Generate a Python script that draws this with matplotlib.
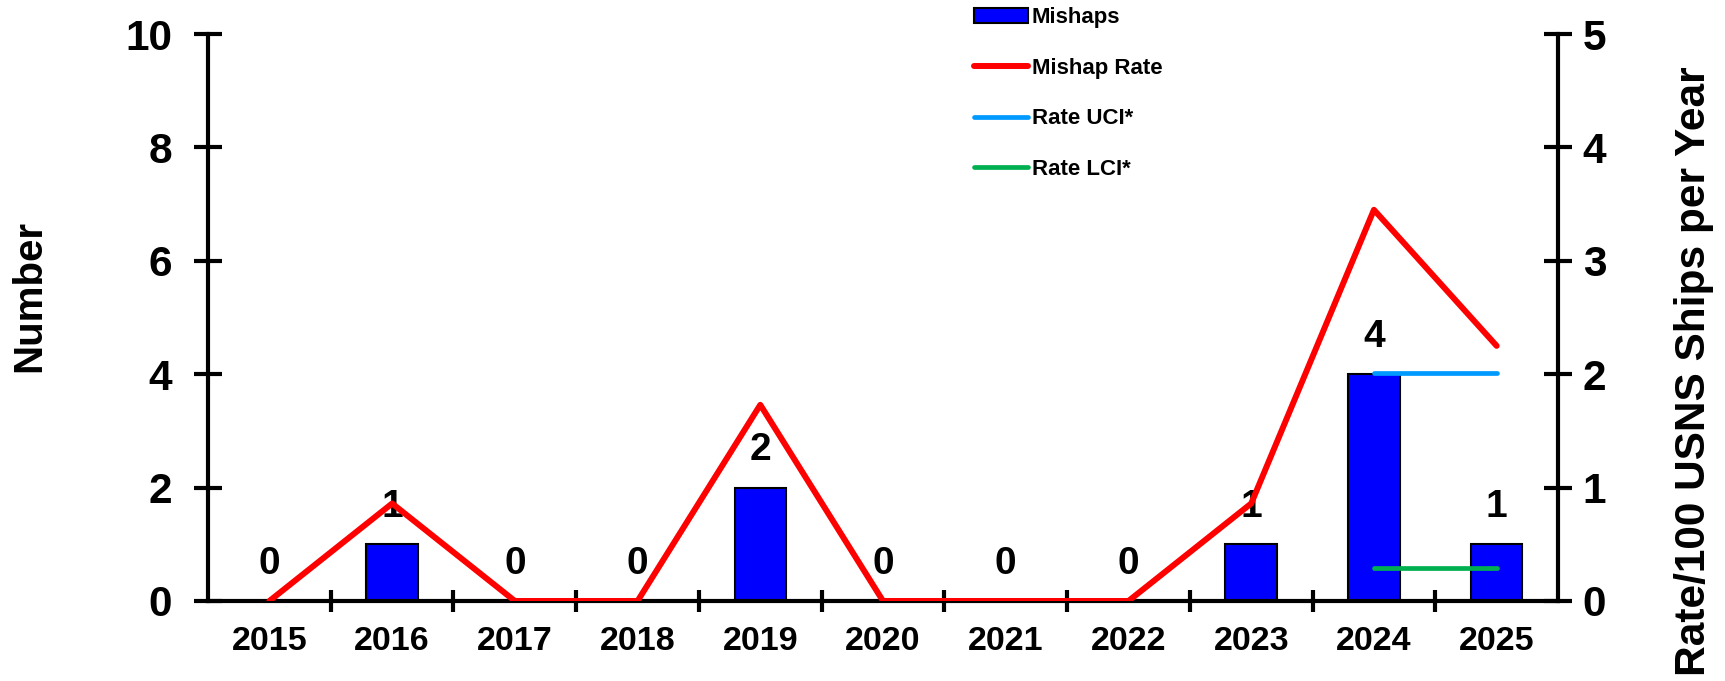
import numpy as np
import matplotlib
matplotlib.use("Agg")
import matplotlib.pyplot as plt

# chart data
years   = ["2015", "2016", "2017", "2018", "2019", "2020", "2021", "2022", "2023", "2024", "2025"]
mishaps = [0, 1, 0, 0, 2, 0, 0, 0, 1, 4, 1]
rate    = [0, 0.86, 0, 0, 1.73, 0, 0, 0, 0.86, 3.45, 2.25]
ci_years = ["2024", "2025"]
rate_uci = [2.01, 2.01]
rate_lci = [0.29, 0.29]

plt.rcParams["font.family"] = ["Liberation Sans", "DejaVu Sans"]
plt.rcParams["font.weight"] = "bold"

fig = plt.figure(figsize = (17.25, 6.81), dpi = 100)
ax = fig.add_axes([0.1206, 0.1175, 0.7826, 0.8325])

x = np.arange(len(years))
ci_x = [years.index(y) for y in ci_years]

bars = ax.bar(x, mishaps, width = 0.42, color = "#0000FF", edgecolor = "black", linewidth = 1.5, label = "Mishaps", zorder = 2)
for xi, v in zip(x, mishaps):
    ax.annotate(str(v), (xi, v), xytext = (0, 14), textcoords = "offset points",
                ha = "center", va = "bottom", fontsize = 28, fontweight = "bold")

ax.set_xlim(-0.5, len(years) - 0.5)
ax.set_ylim(0, 10)
ax.set_yticks([0, 2, 4, 6, 8, 10])
ax.set_xticks(x)
ax.set_xticklabels(years)
ax.set_xticks(np.arange(0.5, len(years) - 0.5, 1.0), minor = True)
ax.tick_params(axis = "x", which = "major", length = 0, labelsize = 24.5, pad = 18)
ax.tick_params(axis = "x", which = "minor", direction = "inout", length = 16.5, width = 3)
ax.tick_params(axis = "y", direction = "inout", length = 19.5, width = 3, labelsize = 30.5, pad = 16)
ax.spines["top"].set_visible(False)
ax.spines["right"].set_visible(False)
for s in ["left", "bottom"]:
    ax.spines[s].set_linewidth(3)

ax2 = ax.twinx()
ax2.plot(x, rate, color = "#FF0000", linewidth = 4.3, solid_capstyle = "round", label = "Mishap Rate", zorder = 3)
ax2.plot(ci_x, rate_uci, color = "#0099FF", linewidth = 3.4, solid_capstyle = "round", label = "Rate UCI*")
ax2.plot(ci_x, rate_lci, color = "#00B050", linewidth = 3.4, solid_capstyle = "round", label = "Rate LCI*")
ax2.set_ylim(0, 5)
ax2.set_yticks([0, 1, 2, 3, 4, 5])
ax2.tick_params(axis = "y", direction = "inout", length = 19.5, width = 3, labelsize = 30.5, pad = 8)
for s in ["top", "left", "bottom"]:
    ax2.spines[s].set_visible(False)
ax2.spines["right"].set_linewidth(3)

fig.text(0.017, 0.565, "Number", rotation = 90, ha = "center", va = "center", fontsize = 29, fontweight = "bold")
fig.text(0.982, 0.455, "Rate/100 USNS Ships per Year", rotation = 90, ha = "center", va = "center", fontsize = 30.5, fontweight = "bold")

h1, l1 = ax.get_legend_handles_labels()
h2, l2 = ax2.get_legend_handles_labels()
fig.legend(h1 + h2, l1 + l2, loc = "upper left", bbox_to_anchor = (0.562, 0.996), frameon = False,
           handlelength = 2.45, handletextpad = 0.15, labelspacing = 1.33,
           borderaxespad = 0, borderpad = 0.2, prop = {"weight": "bold", "size": 16})

plt.savefig("out.png", dpi = 100)
plt.close(fig)
